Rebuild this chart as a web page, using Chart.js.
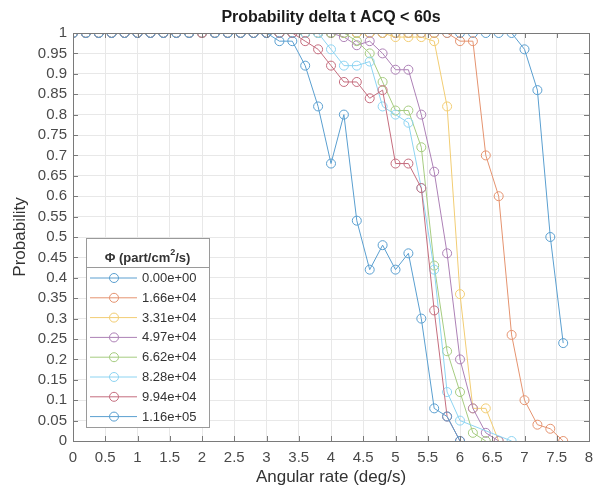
<!DOCTYPE html>
<html>
<head>
<meta charset="utf-8">
<script src="https://cdn.jsdelivr.net/npm/chart.js@4.4.1/dist/chart.umd.min.js"></script>
<style>
  html, body { margin: 0; padding: 0; background: #fff; }
  #wrap { width: 595px; height: 490px; }
</style>
</head>
<body>
<div id="wrap"><canvas id="chart" width="595" height="490"></canvas></div>
<script>
/* Probability delta t ACQ < 60s, one curve per particle flux (MATLAB-style look) */

const rateDeg = [0, 0.2, 0.4, 0.6, 0.8, 1.0, 1.2, 1.4, 1.6, 1.8,
                 2.0, 2.2, 2.4, 2.6, 2.8, 3.0, 3.2, 3.4, 3.6, 3.8,
                 4.0, 4.2, 4.4, 4.6, 4.8, 5.0, 5.2, 5.4, 5.6, 5.8,
                 6.0, 6.2, 6.4, 6.6, 6.8, 7.0, 7.2, 7.4, 7.6];

const fluxLabels = ['0.00e+00', '1.66e+04', '3.31e+04', '4.97e+04',
                    '6.62e+04', '8.28e+04', '9.94e+04', '1.16e+05'];

// probability per rate point (null = no marker)
const probFlux0 = [1, 1, 1, 1, 1, 1, 1, 1, 1, 1,
                   1, 1, 1, 1, 1, 1, 1, 1, 1, 1,
                   1, 1, 1, 1, 1, 1, 1, 1, 1, 1,
                   1, 1, 1, 1, 1, 0.96, 0.86, 0.50, 0.24];
const probFlux1 = [1, 1, 1, 1, 1, 1, 1, 1, 1, 1,
                   1, 1, 1, 1, 1, 1, 1, 1, 1, 1,
                   1, 1, 1, 1, 1, 1, 1, 1, 1, 1,
                   0.98, 0.98, 0.70, 0.60, 0.26, 0.10, 0.04, 0.03, 0];
const probFlux2 = [1, 1, 1, 1, 1, 1, 1, 1, 1, 1,
                   1, 1, 1, 1, 1, 1, 1, 1, 1, 1,
                   1, 1, 1, 1, 1, 0.99, 0.99, 0.99, 0.98, 0.82,
                   0.36, 0.08, 0.08, 0, null, null, null, null, null];
const probFlux3 = [1, 1, 1, 1, 1, 1, 1, 1, 1, 1,
                   1, 1, 1, 1, 1, 1, 1, 1, 1, 1,
                   1, 0.99, 0.97, 0.98, 0.95, 0.91, 0.91, 0.80, 0.66, 0.46,
                   0.20, 0.08, 0.02, 0, null, null, null, null, null];
const probFlux4 = [1, 1, 1, 1, 1, 1, 1, 1, 1, 1,
                   1, 1, 1, 1, 1, 1, 1, 1, 1, 1,
                   1, 1, 0.98, 0.95, 0.88, 0.81, 0.81, 0.72, 0.43, 0.22,
                   0.12, 0.02, 0, null, null, null, null, null, null];
const probFlux5 = [1, 1, 1, 1, 1, 1, 1, 1, 1, 1,
                   1, 1, 1, 1, 1, 1, 1, 1, 1, 1,
                   0.96, 0.92, 0.92, 0.93, 0.82, 0.80, 0.78, 0.62, 0.42, 0.12,
                   0.05, null, null, null, 0, null, null, null, null];
const probFlux6 = [1, 1, 1, 1, 1, 1, 1, 1, 1, 1,
                   1, 1, 1, 1, 1, 1, 1, 1, 0.98, 0.96,
                   0.92, 0.88, 0.88, 0.84, 0.86, 0.68, 0.68, 0.62, 0.32, 0.06,
                   0, null, null, null, null, null, null, null, null];
const probFlux7 = [1, 1, 1, 1, 1, 1, 1, 1, 1, 1,
                   null, 1, 1, 1, 1, 1, 0.98, 0.98, 0.92, 0.82,
                   0.68, 0.80, 0.54, 0.42, 0.48, 0.42, 0.46, 0.30, 0.08, 0.06,
                   0, null, null, null, null, null, null, null, null];

const xTickLabels = ['0', '0.5', '1', '1.5', '2', '2.5', '3', '3.5', '4', '4.5',
                     '5', '5.5', '6', '6.5', '7', '7.5', '8'];
const yTickLabels = ['0', '0.05', '0.1', '0.15', '0.2', '0.25', '0.3', '0.35', '0.4', '0.45',
                     '0.5', '0.55', '0.6', '0.65', '0.7', '0.75', '0.8', '0.85', '0.9', '0.95', '1'];

const allProbs = [probFlux0, probFlux1, probFlux2, probFlux3,
                  probFlux4, probFlux5, probFlux6, probFlux7];

// MATLAB default line order, washed out like the reference (opaque so overlaps don't darken)
const SERIES_COLORS = [
  '#5a9fd0', '#e5936f', '#f2cd73', '#ad81b6', '#a6cc80', '#8dd4f2', '#c56d7e', '#5a9fd0',
];

const FONT = "'Liberation Sans', Arial, Helvetica, sans-serif";
const TICK_GREY = '#4a4a4a';

function toPoints(vals) {
  const pts = [];
  rateDeg.forEach((x, i) => { if (vals[i] !== null) pts.push({ x, y: vals[i] }); });
  return pts;
}

function drawLegend(ctx) {
  const box = { l: 86, t: 238, r: 209, b: 427 };
  ctx.save();
  ctx.fillStyle = '#fff';
  ctx.fillRect(box.l, box.t, box.r - box.l, box.b - box.t);
  ctx.strokeStyle = '#9a9a9a';
  ctx.lineWidth = 1;
  ctx.strokeRect(box.l + 0.5, box.t + 0.5, box.r - box.l, box.b - box.t);

  // title: Φ (part/cm²/s)
  ctx.fillStyle = '#333';
  ctx.textBaseline = 'middle';
  const a = '\u03A6 (part/cm', c = '/s)';
  ctx.font = `bold 13px ${FONT}`;
  const wa = ctx.measureText(a).width, wc = ctx.measureText(c).width;
  ctx.font = `bold 9px ${FONT}`;
  const wb = ctx.measureText('2').width;
  const tx = (box.l + box.r) / 2 - (wa + wb + wc) / 2;
  ctx.textAlign = 'left';
  ctx.font = `bold 13px ${FONT}`;
  ctx.fillText(a, tx, 258);
  ctx.font = `bold 9px ${FONT}`;
  ctx.fillText('2', tx + wa, 253);
  ctx.font = `bold 13px ${FONT}`;
  ctx.fillText(c, tx + wa + wb, 258);

  ctx.strokeStyle = '#9a9a9a';
  ctx.beginPath();
  ctx.moveTo(box.l, 267.5); ctx.lineTo(box.r, 267.5);
  ctx.stroke();

  ctx.font = `13px ${FONT}`;
  fluxLabels.forEach((lab, i) => {
    const yy = 278 + i * 19.8;
    ctx.strokeStyle = SERIES_COLORS[i];
    ctx.lineWidth = 1;
    ctx.beginPath();
    ctx.moveTo(90, yy); ctx.lineTo(137, yy);
    ctx.stroke();
    ctx.beginPath();
    ctx.arc(114, yy, 4.5, 0, Math.PI * 2);
    ctx.stroke();
    ctx.fillStyle = '#333';
    ctx.fillText(lab, 142, yy + 0.5);
  });
  ctx.restore();
}

const matlabFrame = {
  id: 'matlabFrame',
  afterDatasetsDraw(chart) {
    const { ctx, chartArea: a, scales: { x, y } } = chart;
    ctx.save();
    ctx.strokeStyle = '#7a7a7a';
    ctx.lineWidth = 1;
    ctx.strokeRect(Math.round(a.left) + 0.5, Math.round(a.top) + 0.5,
                   Math.round(a.right - a.left), Math.round(a.bottom - a.top));
    ctx.beginPath();
    for (const t of x.ticks) {
      const px = Math.round(x.getPixelForValue(t.value)) + 0.5;
      ctx.moveTo(px, a.bottom); ctx.lineTo(px, a.bottom - 5);
      ctx.moveTo(px, a.top); ctx.lineTo(px, a.top + 5);
    }
    for (const t of y.ticks) {
      const py = Math.round(y.getPixelForValue(t.value)) + 0.5;
      ctx.moveTo(a.left, py); ctx.lineTo(a.left + 5, py);
      ctx.moveTo(a.right, py); ctx.lineTo(a.right - 5, py);
    }
    ctx.stroke();

    ctx.fillStyle = '#1a1a1a';
    ctx.font = `bold 16px ${FONT}`;
    ctx.textAlign = 'center';
    ctx.textBaseline = 'middle';
    ctx.fillText('Probability delta t ACQ < 60s', (a.left + a.right) / 2, 18);
    ctx.restore();

    drawLegend(ctx);
  },
};

const datasets = allProbs.map((vals, i) => ({
  label: fluxLabels[i],
  data: toPoints(vals),
  borderColor: SERIES_COLORS[i],
  backgroundColor: 'rgba(0,0,0,0)',
  borderWidth: 1,
  pointRadius: 4.5,
  pointBorderWidth: 1,
  pointBorderColor: SERIES_COLORS[i],
  pointBackgroundColor: 'rgba(0,0,0,0)',
  tension: 0,
  order: allProbs.length - i,   // later series drawn on top, as in MATLAB
}));

new Chart(document.getElementById('chart'), {
  type: 'line',
  data: { datasets },
  plugins: [matlabFrame],
  options: {
    responsive: false,
    animation: false,
    devicePixelRatio: 1,
    layout: { padding: { left: 0, right: 6, top: 33, bottom: 0 } },
    plugins: { legend: { display: false }, tooltip: { enabled: false }, title: { display: false } },
    scales: {
      x: {
        type: 'linear', min: 0, max: 8,
        afterBuildTicks: (s) => { s.ticks = xTickLabels.map(v => ({ value: parseFloat(v) })); },
        afterFit: (s) => { s.height = 49; s.paddingLeft = 0; s.paddingRight = 0; },
        grid: { color: '#e8e8e8', drawTicks: false },
        border: { display: false },
        ticks: { color: TICK_GREY, font: { family: FONT, size: 15 }, padding: 8,
                 maxRotation: 0, autoSkip: false, callback: (v, i) => xTickLabels[i] },
        title: { display: true, text: 'Angular rate (deg/s)', color: '#333',
                 font: { family: FONT, size: 17 }, padding: { top: 0, bottom: 2 } },
      },
      y: {
        type: 'linear', min: 0, max: 1,
        afterBuildTicks: (s) => { s.ticks = yTickLabels.map(v => ({ value: parseFloat(v) })); },
        afterFit: (s) => { s.width = 73; },
        grid: { color: '#e8e8e8', drawTicks: false },
        border: { display: false },
        ticks: { color: TICK_GREY, font: { family: FONT, size: 15 }, padding: 6,
                 autoSkip: false, callback: (v, i) => yTickLabels[i] },
        title: { display: true, text: 'Probability', color: '#333',
                 font: { family: FONT, size: 17 }, padding: { top: 10, bottom: 0 } },
      },
    },
  },
});
</script>
</body>
</html>
